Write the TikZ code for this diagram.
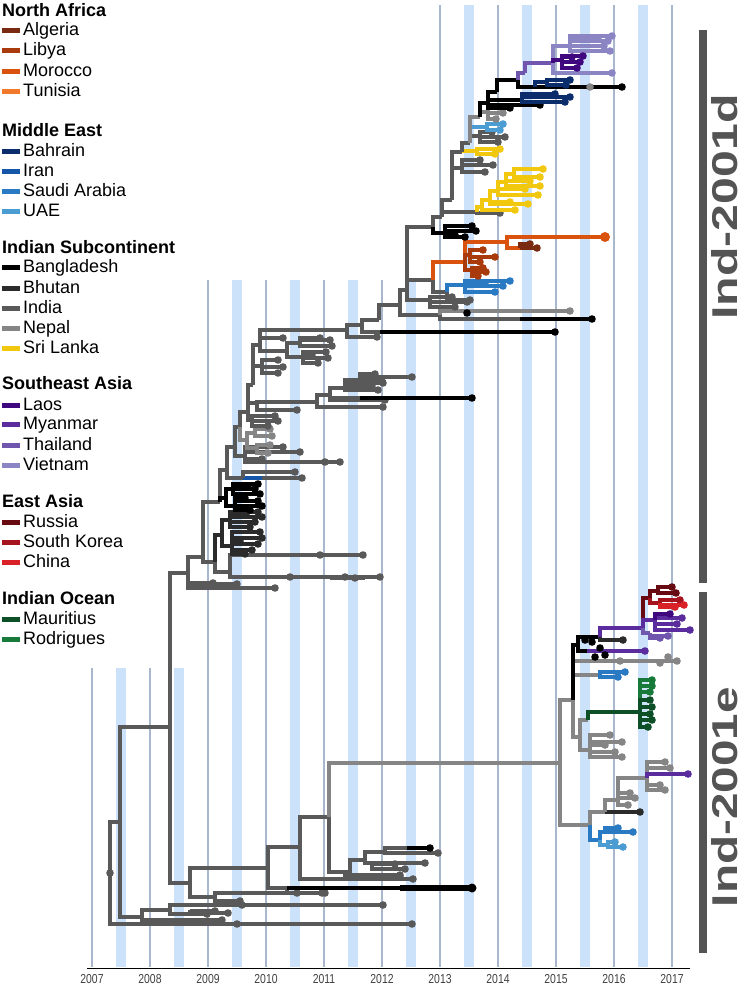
\documentclass[tikz,border=0pt]{standalone}
\usepackage{fontspec}
\setmainfont{Liberation Sans}
\usepackage{graphicx}
\definecolor{ind}{HTML}{595959}
\definecolor{nep}{HTML}{858585}
\definecolor{bhu}{HTML}{2B2B2B}
\definecolor{ban}{HTML}{000000}
\definecolor{sri}{HTML}{F2C80F}
\definecolor{alg}{HTML}{7A2A10}
\definecolor{lib}{HTML}{A83A0C}
\definecolor{mor}{HTML}{D9530E}
\definecolor{tun}{HTML}{F2792B}
\definecolor{bah}{HTML}{0B2D6B}
\definecolor{ira}{HTML}{1656A8}
\definecolor{sau}{HTML}{2A79C3}
\definecolor{uae}{HTML}{4B9CD3}
\definecolor{lao}{HTML}{3F087F}
\definecolor{mya}{HTML}{5B2C9E}
\definecolor{tha}{HTML}{7156AE}
\definecolor{vie}{HTML}{8C85C4}
\definecolor{rus}{HTML}{680A12}
\definecolor{kor}{HTML}{A5141C}
\definecolor{chn}{HTML}{D92128}
\definecolor{mau}{HTML}{0D4F27}
\definecolor{rod}{HTML}{177A3A}
\definecolor{gridl}{HTML}{A8B7CB}
\definecolor{gridb}{HTML}{CCE2FA}
\definecolor{barc}{HTML}{545454}
\newcommand\trE[5][ind]{\draw[br,draw=#1] (#2,#3) |- (#4,#5);}
\newcommand\trT[5][ind]{\draw[br,draw=#1] (#2,#3) |- (#4,#5); \fill[#1] (#4,#5) circle (3.8pt);}
\newcommand\trD[3][ind]{\fill[#1] (#2,#3) circle (3.8pt);}
\newcommand\trM[4][ind]{\foreach \cx/\cy in {#4} {\trT[#1]{#2}{#3}{\cx}{\cy}}}
\begin{document}
\begin{tikzpicture}[x=1pt,y=-1pt,
  br/.style={line width=3.6pt},
  legtxt/.style={anchor=base west,inner sep=0pt,font=\fontsize{18}{20}\selectfont},
  leghead/.style={anchor=base west,inner sep=0pt,font=\bfseries\fontsize{18}{20}\selectfont},
  yearlbl/.style={anchor=base,inner sep=0pt,text=black!75,font=\fontsize{13}{13}\selectfont},
  cladelbl/.style={rotate=90,inner sep=0pt,text=barc,font=\bfseries}]
\useasboundingbox (0,0) rectangle (750,984);
% ---------- time grid ----------
\foreach \xx/\yy in {121/668,179/668,237/280,295/280,353/280,411/280,469/5,527/5,585/5,643/5}
  \fill[gridb] (\xx-5,\yy) rectangle (\xx+5,967);
\foreach \xx/\yy in {92/668,150/668,208/280,266/280,324/280,382/280,440/5,498/5,556/5,614/5,672/5}
  \draw[gridl,line width=2.6pt] (\xx,\yy) -- (\xx,967);
\draw[black,line width=1pt] (87,968) -- (690,968);
\foreach \xx/\yr in {92/2007,150/2008,208/2009,266/2010,324/2011,382/2012,440/2013,498/2014,556/2015,614/2016,672/2017}
  \node[yearlbl] (yr\yr) at (\xx,983) {\scalebox{0.8}[1]{\yr}};
% ---------- legend ----------
\node[leghead] (hNA) at (2,17) {North Africa};
\node[leghead] (hME) at (2,137) {Middle East};
\node[leghead] (hIS) at (2,254) {Indian Subcontinent};
\node[leghead] (hSA) at (2,389) {Southeast Asia};
\node[leghead] (hEA) at (2,507) {East Asia};
\node[leghead] (hIO) at (2,604) {Indian Ocean};
\foreach \cc/\lname/\bb in {alg/Algeria/36,lib/Libya/56,mor/Morocco/77,tun/Tunisia/97,
  bah/Bahrain/157,ira/Iran/177,sau/Saudi Arabia/197,uae/UAE/217,
  ban/Bangladesh/272,bhu/Bhutan/293,ind/India/313,nep/Nepal/333,sri/Sri Lanka/353,
  lao/Laos/410,mya/Myanmar/429,tha/Thailand/450,vie/Vietnam/470,
  rus/Russia/527,kor/South Korea/547,chn/China/567,
  mau/Mauritius/624,rod/Rodrigues/644}{
  \fill[\cc] (2,\bb-7.5) rectangle (20,\bb-2.5);
  \node[legtxt] (leg\bb) at (23,\bb) {\lname};
}
% ---------- clade bars ----------
\fill[barc] (699,30) rectangle (707,583);
\fill[barc] (699,592) rectangle (707,953);
\node[cladelbl] (labd) at (725,207) {\resizebox{225pt}{26pt}{Ind-2001d}};
\node[cladelbl] (labe) at (725,797) {\resizebox{220pt}{26pt}{Ind-2001e}};
% ---------- tree: root and basal part ----------
\trE{110}{873}{120}{822}
\trT{110}{873}{412}{924}
\trD{237}{924}
\trE{120}{822}{170}{727}
\trE{120}{822}{142}{917}
\trE{170}{727}{188}{573}
\trE{170}{727}{190}{883}
\trE{190}{883}{268}{868}
\trE{190}{883}{215}{897}
\trT{215}{897}{240}{901}
\trT{215}{897}{325}{893}
\trD{297}{893}
\trE{268}{868}{300}{847}
\trE{268}{868}{287}{888}
\trT{287}{888}{322}{893}
\trT[ban]{287}{888}{472}{888}
\draw[ban,line width=6pt] (400,888) -- (472,888);
\fill[ban] (472,888) circle (4.5pt);
\trE{300}{847}{329}{817}
\trT{300}{847}{413}{879}
\trT{345}{879}{400}{875}
\trE[nep]{329}{817}{560}{763}
\trE{329}{817}{350}{872}
\trT{350}{872}{400}{877}
\trE{350}{872}{365}{860}
\trT{365}{860}{425}{863}
\trE{365}{860}{385}{852}
\trT{385}{852}{438}{853}
\trE{385}{852}{407}{848}
\trT[ban]{407}{848}{430}{848}
\trM{372}{866}{395/864,405/869}
\trE{142}{917}{170}{910}
\trT{142}{917}{222}{920}
\trT{170}{910}{383}{905}
\trT{170}{910}{207}{914}
\trM{190}{910}{215/911,228/913}
\trD{242}{905}
\trD{110}{873}
% ---------- Ind-2001d ----------
\trT{188}{573}{275}{588}
\trM{188}{573}{213/583,237/584}
\trE{188}{573}{203}{557}
\trE{203}{557}{215}{562}
\trE{203}{557}{220}{502}
\trE{215}{562}{230}{572}
\trT{230}{572}{363}{555}
\trT{230}{572}{380}{577}
\trD{290}{577}\trD{345}{577}\trD{320}{555}\trD{355}{578}
\draw[br,line width=5pt,ind] (330,577)--(365,577);
\trE[bhu]{215}{562}{222}{535}
\trE[bhu]{222}{535}{230}{520}
\trE[bhu]{222}{535}{232}{546}
\trM[bhu]{230}{520}{258/512,262/517,255/522,250/527,246/515}
\trM[bhu]{232}{546}{262/538,258/544,252/550,245/554,260/532,240/541}
\trE{220}{502}{227}{470}
\trE[ban]{220}{502}{226}{498}
\trE[ban]{226}{498}{233}{489}
\trE[ban]{226}{498}{235}{506}
\trM[ban]{233}{489}{258/484,255/489,260/494,248/486}
\trM[ban]{235}{506}{258/501,262/506,250/510,245/498}
\trE{227}{470}{243}{478}
\draw[br,ira] (243,478) -- (262,478);
\trT{262}{478}{302}{478}
\trT{243}{478}{295}{472}
\trE{227}{470}{235}{447}
\trE{235}{447}{240}{427}
\trE{235}{447}{245}{456}
\trM{245}{456}{340/462,283/447,300/452,262/459}
\trD{325}{462}
\trE{240}{427}{248}{412}
\trE[nep]{240}{427}{247}{440}
\trE[nep]{247}{440}{255}{433}
\trE[nep]{247}{440}{257}{448}
\trM[nep]{255}{433}{270/429,272/436}
\trM[nep]{257}{448}{270/445,268/453}
\trE{248}{412}{252}{420}
\trM{252}{420}{275/416,278/421,268/426}
\trE{248}{412}{257}{403}
\trE{248}{412}{253}{385}
\trT{257}{403}{297}{410}
\trE{257}{403}{317}{402}
\trT{317}{402}{383}{407}
\trE{317}{402}{330}{395}
\trE{330}{395}{345}{388}
\trT{330}{395}{385}{400}
\trE{330}{395}{360}{398}
\trT[ban]{360}{398}{472}{398}
\trM{345}{388}{383/383,378/390,372/386}
\trE{345}{388}{360}{380}
\trM{360}{380}{412/377,375/374,382/381,368/378}
\trE{253}{385}{262}{366}
\trM{262}{366}{278/360,283/367,278/373}
\trE{253}{385}{260}{345}
\trE{260}{345}{347}{330}
\trE{260}{345}{287}{351}
\trT{260}{345}{283}{338}
\trE{287}{351}{300}{343}
\trE{287}{351}{303}{357}
\trM{300}{343}{330/340,332/346,320/338}
\trM{303}{357}{326/352,328/358,318/363,312/355}
\trT{347}{330}{377}{337}
\trE{347}{330}{362}{325}
\trE{362}{325}{379}{320}
\trE{362}{325}{380}{332}
\trT[ban]{380}{332}{555}{332}
\trE{379}{320}{400}{305}
\trE{400}{305}{407}{290}
\trE{400}{305}{440}{315}
\trT[nep]{440}{315}{570}{311}
\trE{440}{315}{520}{319}
\trT[ban]{520}{319}{592}{319}
\trD[ban]{467}{313}
\trE{407}{290}{430}{300}
\trM{430}{300}{452/297,467/302,455/307}
\trE{407}{290}{433}{280}
\trE{407}{290}{433}{227}
\trE{433}{280}{447}{292}
\trE[sau]{447}{292}{465}{285}
\trT{447}{292}{470}{300}
\trM[sau]{465}{285}{510/281,503/286,495/292,485/283}
\trE[mor]{433}{280}{465}{262}
\trE[mor]{465}{262}{507}{242}
\trT[mor]{507}{242}{605}{237}
\fill[mor] (605,237) circle (5pt);
\trE[mor]{507}{242}{520}{248}
\trM[alg]{520}{248}{537/248,530/244}
\trE[lib]{465}{262}{470}{255}
\trE[lib]{465}{262}{472}{270}
\trM[lib]{470}{255}{483/250,495/257,480/262}
\trM[lib]{472}{270}{483/268,478/276,486/272}
\trE[ban]{433}{227}{445}{233}
\trM[ban]{445}{233}{472/226,476/231,465/237,455/235}
\trE{433}{227}{442}{217}
\trE{442}{217}{477}{212}
\trT{477}{212}{500}{213}
\trE[sri]{477}{212}{482}{207}
\trT[sri]{482}{207}{515}{210}
\trE[sri]{482}{207}{490}{200}
\trM[sri]{490}{200}{528/204,510/202}
\trE[sri]{490}{200}{498}{191}
\trM[sri]{498}{191}{538/195,525/189}
\trE[sri]{498}{191}{506}{182}
\trM[sri]{506}{182}{540/186,530/181}
\trE[sri]{506}{182}{514}{174}
\trM[sri]{514}{174}{543/169,540/177}
\trE{442}{217}{452}{200}
\trE{452}{200}{462}{168}
\trM{462}{168}{493/165,485/172,480/160}
\trE{452}{200}{462}{152}
\trE[sri]{462}{152}{477}{151}
\trM[sri]{477}{151}{500/149,495/154}
\trE{462}{152}{470}{143}
\trE{470}{143}{480}{136}
\trM{480}{136}{505/137,498/142,492/132}
\trE[uae]{470}{143}{487}{127}
\trM[uae]{487}{127}{503/124,500/130}
\trE[nep]{470}{143}{480}{117}
\trE[nep]{480}{117}{488}{112}
\trM[nep]{488}{112}{500/107,503/113,496/119}
\trE[ban]{480}{117}{488}{103}
\trT[ban]{488}{103}{510}{108}
\trT[ban]{488}{103}{540}{105}
\trE[ban]{488}{103}{522}{100}
\trM[bah]{522}{100}{570/97,565/102,555/94}
\trE[ban]{488}{103}{497}{92}
\trE[ban]{497}{92}{518}{80}
\trE[ban]{518}{80}{535}{87}
\trT[ban]{535}{87}{622}{87}
\trD[nep]{590}{87}
\trE[bah]{535}{87}{547}{82}
\trM[bah]{547}{82}{570/80,566/85}
\trE[tha]{518}{80}{525}{73}
\trE[tha]{525}{73}{553}{63}
\trE[vie]{553}{63}{570}{46}
\trM[vie]{570}{46}{612/36,608/41,604/46,610/51,598/38}
\trT[vie]{553}{63}{612}{73}
\trE[lao]{553}{63}{562}{60}
\trM[lao]{562}{60}{583/56,580/62,577/68,572/57}
% ---------- Ind-2001e ----------
\trE[nep]{560}{763}{573}{700}
\trE[nep]{560}{763}{590}{825}
\trT[nep]{573}{700}{677}{661}
\trD[nep]{620}{661}\trD[nep]{668}{657}\trD[nep]{660}{663}
\trE[nep]{573}{700}{600}{675}
\trM[sau]{600}{675}{625/672,618/677}
\trE[nep]{573}{700}{580}{737}
\trE[ban]{573}{700}{578}{645}
\trE[ban]{578}{645}{600}{637}
\trE[ban]{578}{645}{587}{651}
\trT[mya]{587}{651}{645}{651}
\trD[ban]{592}{642}\trD[ban]{600}{648}\trD[ban]{605}{655}\trD[ban]{595}{657}\trD[ban]{585}{640}
\trE[mya]{600}{637}{643}{628}
\trT[bhu]{600}{637}{623}{640}
\trE[rus]{643}{628}{650}{598}
\trE[rus]{650}{598}{658}{591}
\trM[rus]{658}{591}{672/587,676/593}
\trE[kor]{650}{598}{660}{603}
\trT[kor]{660}{603}{680}{600}
\trM[chn]{660}{603}{684/605,675/607}
\trE[mya]{643}{628}{655}{620}
\trM[mya]{655}{620}{690/630,682/618,677/624}
\trT[lao]{655}{620}{670}{614}
\trE[tha]{643}{628}{650}{633}
\trM[tha]{650}{633}{668/636,660/638}
\trE[nep]{580}{737}{588}{720}
\trE[mau]{588}{720}{640}{712}
\trM[rod]{640}{712}{652/680,652/686,650/692}
\trM[mau]{640}{712}{650/700,652/707,650/714,652/720,648/727}
\trE[nep]{580}{737}{590}{750}
\trM[nep]{590}{750}{622/742,622/757,610/735,605/745,615/752}
\trE[sau]{590}{825}{600}{840}
\trE[sau]{600}{840}{605}{832}
\trM[sau]{605}{832}{633/832,618/828}
\trE[uae]{600}{840}{608}{845}
\trM[uae]{608}{845}{623/847,615/842}
\trE[nep]{590}{825}{605}{812}
\trT[bhu]{605}{812}{640}{812}
\trE[nep]{605}{812}{618}{800}
\trM[nep]{618}{800}{630/793,628/805,635/798}
\trE[nep]{618}{800}{647}{778}
\trM[nep]{647}{778}{665/762,670/768,665/790,660/785}
\trT[mya]{647}{778}{688}{774}
\end{tikzpicture}
\end{document}
